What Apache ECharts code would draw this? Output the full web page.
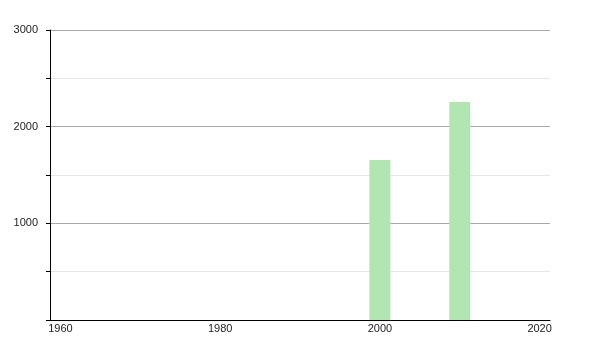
<!DOCTYPE html>
<html>
<head>
<meta charset="utf-8">
<script src="https://cdn.jsdelivr.net/npm/echarts@6/dist/echarts.min.js"></script>
<style>html,body{margin:0;padding:0;background:#fff}#c{width:600px;height:350px}</style>
</head>
<body>
<div id="c"></div>
<script>
const years = [2000, 2010];
const values = [1655, 2255];
const xTickLabels = [1960, 1980, 2000, 2020];
const yTickLabels = [1000, 2000, 3000];

const chart = echarts.init(document.getElementById('c'), null, {renderer: 'canvas'});
chart.setOption({
  animation: false,
  backgroundColor: '#ffffff',
  grid: {left: 50, right: 50, top: 30, bottom: 30, containLabel: false},
  xAxis: {
    type: 'value',
    min: 1958.69,
    max: 2021.3,
    axisLine: {show: true, lineStyle: {color: '#000', width: 1}},
    axisTick: {show: false},
    splitLine: {show: false},
    axisLabel: {
      customValues: xTickLabels,
      color: '#222',
      fontFamily: 'Liberation Sans, Arial, sans-serif',
      fontSize: 11,
      margin: 3,
      formatter: v => String(v)
    }
  },
  yAxis: {
    type: 'value',
    min: 0,
    max: 3000,
    interval: 500,
    axisLine: {show: true, lineStyle: {color: '#000', width: 1}},
    axisTick: {show: true, inside: false, length: 4, lineStyle: {color: '#000'}},
    splitLine: {show: true, lineStyle: {color: ['#aaaaaa', '#e6e6e6'], width: 1}},
    axisLabel: {
      color: '#222',
      fontFamily: 'Liberation Sans, Arial, sans-serif',
      fontSize: 11,
      margin: 12,
      formatter: v => yTickLabels.includes(v) ? String(v) : ''
    }
  },
  series: [{
    type: 'bar',
    data: years.map((y, i) => [y, values[i]]),
    barWidth: 21,
    itemStyle: {color: '#b3e5b3'}
  }]
});
</script>
</body>
</html>
